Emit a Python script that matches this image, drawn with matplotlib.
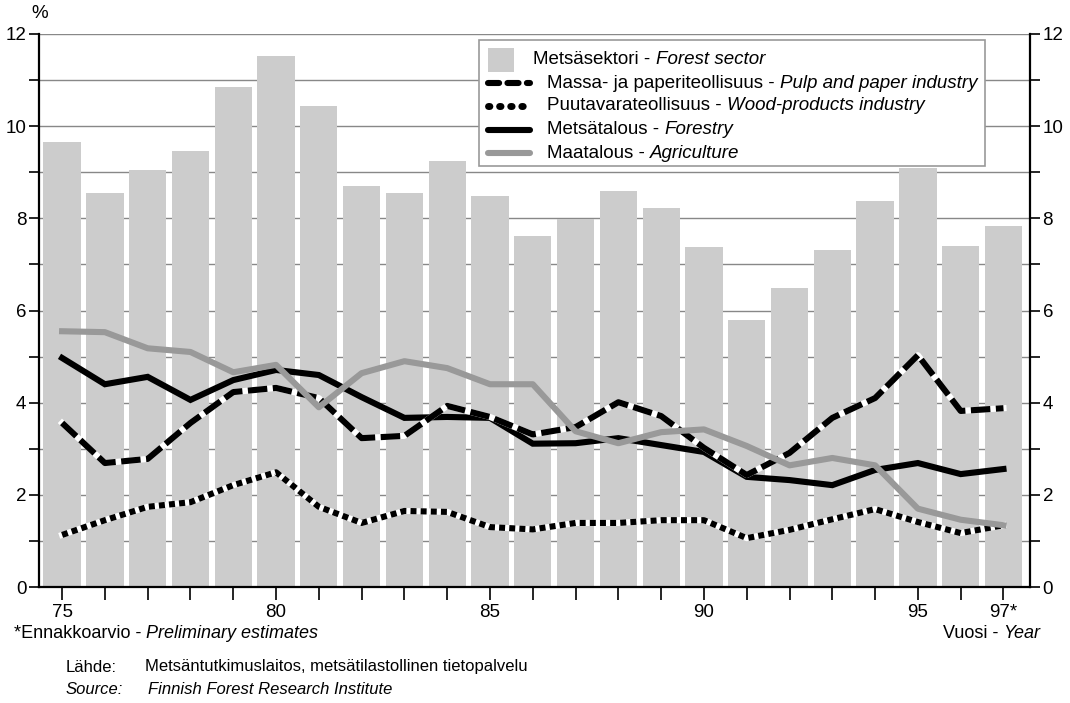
import matplotlib
matplotlib.use("Agg")
import matplotlib.pyplot as plt
import numpy as np
from matplotlib.patches import Rectangle
from matplotlib.lines import Line2D

plt.rcParams["font.family"] = ["Liberation Sans", "DejaVu Sans"]
plt.rcParams["lines.scale_dashes"] = False

years = np.arange(1975, 1998)
year_labels = ["75", "80", "85", "90", "95", "97*"]
year_label_pos = [1975, 1980, 1985, 1990, 1995, 1997]

# Share of GDP, %
forest_sector = [9.65, 8.55, 9.05, 9.46, 10.85, 11.52, 10.43, 8.70, 8.55, 9.24, 8.48,
                 7.61, 7.98, 8.59, 8.22, 7.38, 5.79, 6.49, 7.31, 8.37, 9.09, 7.40, 7.83]
pulp_paper = [3.56, 2.69, 2.78, 3.56, 4.23, 4.32, 4.10, 3.23, 3.28, 3.93, 3.69,
              3.31, 3.47, 4.01, 3.71, 3.02, 2.43, 2.91, 3.67, 4.10, 5.03, 3.82, 3.88]
wood_products = [1.13, 1.45, 1.74, 1.84, 2.21, 2.49, 1.74, 1.39, 1.65, 1.63, 1.30,
                 1.25, 1.39, 1.39, 1.45, 1.45, 1.06, 1.24, 1.47, 1.69, 1.41, 1.17, 1.34]
forestry = [4.97, 4.40, 4.56, 4.06, 4.49, 4.71, 4.60, 4.12, 3.67, 3.69, 3.67,
            3.11, 3.12, 3.23, 3.08, 2.93, 2.39, 2.32, 2.21, 2.54, 2.69, 2.45, 2.56]
agriculture = [5.55, 5.53, 5.18, 5.10, 4.66, 4.82, 3.90, 4.64, 4.90, 4.75, 4.40,
               4.40, 3.38, 3.12, 3.36, 3.42, 3.06, 2.64, 2.80, 2.64, 1.70, 1.46, 1.34]

BAR = "#cccccc"
GREY = "#999999"
LW = 4.4

fig = plt.figure(figsize=(10.7, 7.03), dpi=100)
ax = fig.add_axes([39 / 1070, 1 - 587 / 703, (1030 - 39) / 1070, (587 - 34) / 703])

ax.set_xlim(1974.46, 1997.62)
ax.set_ylim(0, 12)

for v in range(1, 13):
    ax.axhline(v, color="#888888", lw=1.0, zorder=0)

ax.bar(years, forest_sector, width=0.87, color=BAR, zorder=1)

ax.plot(years, forestry, color="black", lw=LW, solid_joinstyle="miter", zorder=3)

# dashed / dotted lines: black dashes over a white line
ax.plot(years, pulp_paper, color="white", lw=LW, zorder=4)
ax.plot(years, pulp_paper, color="black", lw=LW, dashes=(14, 4),
        dash_capstyle="butt", zorder=5)

ax.plot(years, wood_products, color="white", lw=LW, zorder=4)
ax.plot(years, wood_products, color="black", lw=LW, dashes=(4.3, 3),
        dash_capstyle="butt", zorder=5)

ax.plot(years, agriculture, color=GREY, lw=LW, zorder=6)

# axes styling
for side in ["left", "bottom", "right"]:
    ax.spines[side].set_color("black")
    ax.spines[side].set_linewidth(1.6)
ax.spines["top"].set_visible(False)

ax.set_yticks(range(0, 13))
ax.set_yticklabels([str(v) if v % 2 == 0 else "" for v in range(0, 13)])
ax.tick_params(axis="y", direction="out", length=7, width=1.2, labelsize=13.5,
               left=True, right=True, labelleft=True, labelright=True, pad=2)
ax.set_xticks(years)
ax.set_xticklabels([year_labels[year_label_pos.index(y)] if y in year_label_pos else ""
                    for y in years])
ax.tick_params(axis="x", direction="out", length=9, width=1.2, labelsize=13.5, pad=3)


# legend drawn by hand (Finnish upright, English italic)
def ax_pt(px, py):
    return ((px - 39) / (1030 - 39), (587 - py) / (587 - 34))


x0, y0 = ax_pt(479, 166)
x1, y1 = ax_pt(985, 40)
ax.add_patch(Rectangle((x0, y0), x1 - x0, y1 - y0, transform=ax.transAxes,
                       facecolor="white", edgecolor="#999999", lw=1.2, zorder=10))
px, py = ax_pt(488, 72)
qx, qy = ax_pt(514, 48)
ax.add_patch(Rectangle((px, py), qx - px, qy - py, transform=ax.transAxes,
                       facecolor=BAR, edgecolor="none", zorder=11))

leg_rows = [
    ("Metsäsektori", "Forest sector", 60, None),
    ("Massa- ja paperiteollisuus", "Pulp and paper industry", 83, "dash"),
    ("Puutavarateollisuus", "Wood-products industry", 106, "dot"),
    ("Metsätalous", "Forestry", 130, "solid"),
    ("Maatalous", "Agriculture", 153, "grey"),
]
for fin, eng, ypx, kind in leg_rows:
    if kind is not None:
        la, lb = ax_pt(488, ypx)
        lc, _ = ax_pt(530, ypx)
        kw = dict(color="black", lw=LW, solid_capstyle="round", dash_capstyle="round")
        if kind == "dash":
            kw["dashes"] = (8, 6)
        elif kind == "dot":
            kw["dashes"] = (1, 7)
            kw["lw"] = 5
        elif kind == "grey":
            kw["color"] = GREY
        ax.add_line(Line2D([la, lc], [lb, lb], transform=ax.transAxes, zorder=11, **kw))
    tx, ty = ax_pt(533 if kind is None else 547, ypx)
    t = ax.text(tx, ty, fin + " - ", transform=ax.transAxes, fontsize=13.5,
                va="center", ha="left", zorder=12)
    ax.annotate(eng, xy=(1, 0.5), xycoords=t, va="center", ha="left",
                fontsize=13.5, style="italic", zorder=12)

# surrounding texts
fig.text(40 / 1070, 1 - 14 / 703, "%", fontsize=13.5, ha="center", va="center")
t = fig.text(14 / 1070, 1 - 633 / 703, "*Ennakkoarvio - ", fontsize=13, va="center")
ax.annotate("Preliminary estimates", xy=(1, 0.5), xycoords=t, va="center",
            ha="left", fontsize=13, style="italic")
t2 = fig.text(1040 / 1070, 1 - 633 / 703, "Year", fontsize=13, style="italic",
              ha="right", va="center")
ax.annotate("Vuosi - ", xy=(0, 0.5), xycoords=t2, va="center", ha="right", fontsize=13)

fig.text(66 / 1070, 1 - 667 / 703, "Lähde:", fontsize=12, va="center")
fig.text(145 / 1070, 1 - 667 / 703,
         "Metsäntutkimuslaitos, metsätilastollinen tietopalvelu", fontsize=12, va="center")
fig.text(66 / 1070, 1 - 690 / 703, "Source:", fontsize=12, style="italic", va="center")
fig.text(148 / 1070, 1 - 690 / 703, "Finnish Forest Research Institute",
         fontsize=12, style="italic", va="center")

fig.savefig("out.png", dpi=100)
